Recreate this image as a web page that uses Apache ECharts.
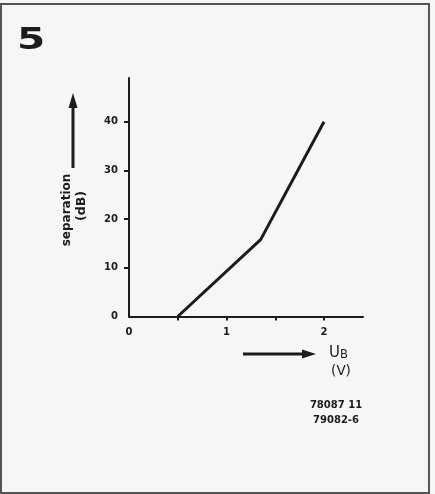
<!DOCTYPE html>
<html>
<head>
<meta charset="utf-8">
<script src="https://cdn.jsdelivr.net/npm/echarts@6/dist/echarts.min.js"></script>
<style>
html,body{margin:0;padding:0;background:#f6f6f6;}
#chart{width:435px;height:494px;}
</style>
</head>
<body>
<div id="chart"></div>
<script>
// Data
const ubValues = [0.5, 1.35, 2.0];          // U_B (V)
const separationValues = [0, 15.8, 40];     // separation (dB)
const xLabelValues = [0, 1, 2];
const xTickValues = [0.5, 1, 1.5, 2];
const yLabelValues = [0, 10, 20, 30, 40];
const yTickValues = [10, 20, 30, 40];
const figNumber = '5';
const yName = 'separation';
const yUnit = '(dB)';
const codes = ['78087 11', '79082-6'];

const ink = '#1c1c1c';
const chart = echarts.init(document.getElementById('chart'), null, {renderer: 'canvas'});

const tickFont = {fontFamily: 'DejaVu Sans', fontWeight: 'bold', fontSize: 10, color: ink};

chart.setOption({
  backgroundColor: '#f6f6f6',
  animation: false,
  grid: {left: 129, top: 78, right: 72, bottom: 177.5, containLabel: false},
  xAxis: {
    type: 'value', min: 0, max: 2.4, interval: 0.5,
    axisLine: {show: true, onZero: false, lineStyle: {color: ink, width: 2}},
    axisTick: {show: true, inside: false, length: 4, customValues: xTickValues, lineStyle: {color: ink, width: 2}},
    axisLabel: Object.assign({margin: 11, customValues: xLabelValues, formatter: v => String(v)}, tickFont),
    splitLine: {show: false}
  },
  yAxis: {
    type: 'value', min: 0, max: 49, interval: 10,
    axisLine: {show: true, onZero: false, lineStyle: {color: ink, width: 2}},
    axisTick: {show: true, inside: false, length: 5, customValues: yTickValues, lineStyle: {color: ink, width: 2}},
    axisLabel: Object.assign({margin: 11, customValues: yLabelValues}, tickFont),
    splitLine: {show: false}
  },
  series: [{
    type: 'line',
    data: ubValues.map((u, i) => [u, separationValues[i]]),
    symbol: 'none',
    smooth: false,
    lineStyle: {color: ink, width: 3, join: 'round'},
    z: 5
  }],
  graphic: [
    // outer frame
    {type: 'rect', shape: {x: 1, y: 4, width: 428, height: 489}, style: {fill: null, stroke: '#555', lineWidth: 2}, silent: true},
    // figure number
    {type: 'text', x: 17, y: 26, scaleX: 1.35, style: {text: figNumber, fontFamily: 'DejaVu Sans', fontWeight: 'bold', fontSize: 30, fill: ink}},
    // y arrow
    {type: 'line', shape: {x1: 73, y1: 168, x2: 73, y2: 104}, style: {stroke: ink, lineWidth: 3}},
    {type: 'polygon', shape: {points: [[73, 93], [68.5, 108], [77.5, 108]]}, style: {fill: ink}},
    // y name
    {type: 'text', x: 67, y: 210, rotation: Math.PI / 2, style: {text: yName, fontFamily: 'DejaVu Sans', fontWeight: 'bold', fontSize: 12, fill: ink, align: 'center', verticalAlign: 'middle'}},
    {type: 'text', x: 82, y: 206, rotation: Math.PI / 2, style: {text: yUnit, fontFamily: 'DejaVu Sans', fontWeight: 'bold', fontSize: 12.5, fill: ink, align: 'center', verticalAlign: 'middle'}},
    // x arrow
    {type: 'line', shape: {x1: 243, y1: 354, x2: 304, y2: 354}, style: {stroke: ink, lineWidth: 3}},
    {type: 'polygon', shape: {points: [[316, 354], [302, 349.5], [302, 358.5]]}, style: {fill: ink}},
    // x name
    {type: 'text', x: 329, y: 353, style: {
      text: '{u|U}{b|B}', fontFamily: 'DejaVu Sans', verticalAlign: 'middle',
      rich: {u: {fontFamily: 'DejaVu Sans', fontSize: 15, fill: ink, verticalAlign: 'bottom'}, b: {fontFamily: 'DejaVu Sans', fontSize: 11.5, fill: ink, padding: [4, 0, 0, 0], verticalAlign: 'bottom'}}
    }},
    {type: 'text', x: 341, y: 371, style: {text: '(V)', fontFamily: 'DejaVu Sans', fontSize: 13.5, fill: ink, align: 'center', verticalAlign: 'middle'}},
    // codes
    {type: 'text', x: 336, y: 405, style: {text: codes[0], fontFamily: 'DejaVu Sans', fontWeight: 'bold', fontSize: 10, fill: ink, align: 'center', verticalAlign: 'middle'}},
    {type: 'text', x: 336, y: 420, style: {text: codes[1], fontFamily: 'DejaVu Sans', fontWeight: 'bold', fontSize: 10, fill: ink, align: 'center', verticalAlign: 'middle'}}
  ]
});
</script>
</body>
</html>
